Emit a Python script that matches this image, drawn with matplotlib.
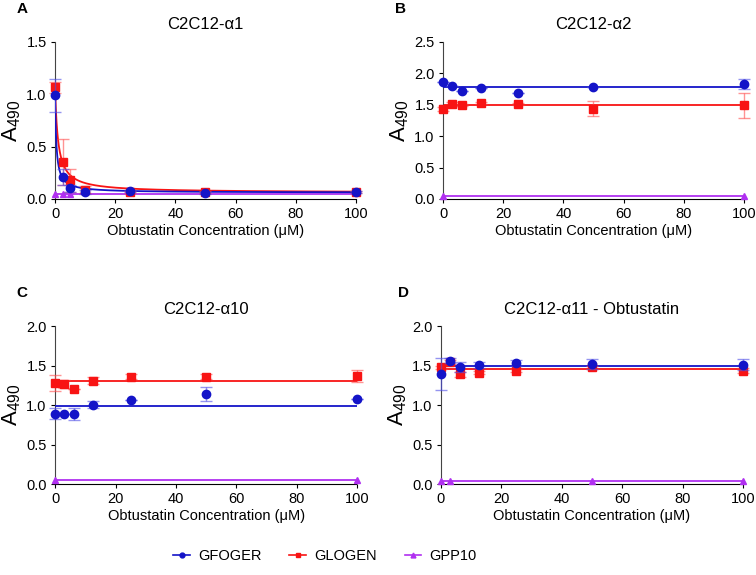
import numpy as np
import matplotlib
matplotlib.use('Agg')
import matplotlib.pyplot as plt

plt.rcParams['font.family'] = ['Liberation Sans', 'DejaVu Sans']
plt.rcParams['font.size'] = 10.5
plt.rcParams['xtick.labelsize'] = 10.5
plt.rcParams['ytick.labelsize'] = 10.5

# %% data
conc_a = [0, 2.5, 5, 10, 25, 50, 100]
conc = [0, 3.125, 6.25, 12.5, 25, 50, 100]

# panel A  C2C12-a1
a_gfoger = [0.99, 0.21, 0.10, 0.064, 0.076, 0.06, 0.064]
a_gfoger_err = [0.16, 0.08, 0.03, 0.02, 0.01, 0.01, 0.01]
a_glogen = [1.065, 0.35, 0.18, 0.09, 0.065, 0.065, 0.065]
a_glogen_err = [0.05, 0.22, 0.11, 0.03, 0.01, 0.01, 0.01]
a_gpp10 = [0.05, 0.05, 0.05, 0.05, 0.05, 0.05, 0.05]
# fit parameters (top, bottom, IC50) for the decay curves
a_fit_gfoger = (1.0, 0.06, 0.44)
a_fit_glogen = (1.07, 0.06, 1.0)

# panel B  C2C12-a2
b_gfoger = [1.86, 1.80, 1.72, 1.77, 1.68, 1.79, 1.83]
b_gfoger_err = [0.0, 0.0, 0.0, 0.0, 0.0, 0.0, 0.08]
b_glogen = [1.43, 1.515, 1.50, 1.53, 1.515, 1.435, 1.49]
b_glogen_err = [0.03, 0.03, 0.02, 0.02, 0.02, 0.12, 0.2]
b_gpp10 = [0.05, None, None, None, None, None, 0.05]
b_fit = (1.78, 1.49, 0.05)

# panel C  C2C12-a10
c_gfoger = [0.888, 0.888, 0.888, 1.006, 1.065, 1.14, 1.08]
c_gfoger_err = [0.07, 0.0, 0.076, 0.04, 0.0, 0.09, 0.0]
c_glogen = [1.28, 1.263, 1.2, 1.31, 1.36, 1.36, 1.37]
c_glogen_err = [0.1, 0.05, 0.0, 0.04, 0.03, 0.03, 0.075]
c_gpp10 = [0.05, None, None, None, None, None, 0.05]
c_fit = (0.994, 1.31, 0.05)

# panel D  C2C12-a11
d_gfoger = [1.39, 1.56, 1.48, 1.51, 1.53, 1.52, 1.51]
d_gfoger_err = [0.2, 0.03, 0.06, 0.04, 0.035, 0.06, 0.07]
d_glogen = [1.48, 1.545, 1.39, 1.41, 1.435, 1.48, 1.435]
d_glogen_err = [0.02, 0.02, 0.03, 0.02, 0.02, 0.02, 0.03]
d_gpp10 = [0.04, 0.04, None, None, None, 0.04, 0.04]
d_fit = (1.50, 1.457, 0.04)

blue = '#1414c8'
red = '#f81414'
purple = '#b030f0'

fig = plt.figure(figsize=(7.56, 5.75), dpi=100)

ax_a = fig.add_axes([0.0728, 0.654, 0.398, 0.273])
ax_b = fig.add_axes([0.586, 0.654, 0.398, 0.273])
ax_c = fig.add_axes([0.0728, 0.158, 0.400, 0.275])
ax_d = fig.add_axes([0.583, 0.158, 0.400, 0.275])


def pts(x, y):
    xx = [xi for xi, yi in zip(x, y) if yi is not None]
    yy = [yi for yi in y if yi is not None]
    return xx, yy


def style(ax, title, ymax, yticks, letter, lx):
    ax.set_xlim(0, 100)
    ax.set_ylim(0, ymax)
    ax.set_xticks([0, 20, 40, 60, 80, 100])
    ax.set_yticks(yticks)
    ax.set_yticklabels(['%.1f' % t for t in yticks])
    ax.spines['top'].set_visible(False)
    ax.spines['right'].set_visible(False)
    ax.spines['left'].set_color('#444444')
    ax.spines['bottom'].set_linestyle((0, (1, 1)))
    ax.tick_params(length=3, width=0.8, pad=3)
    ax.set_title(title, fontsize=12, pad=9)
    ax.set_xlabel('Obtustatin Concentration (\u03bcM)', fontsize=10.5, labelpad=2)
    ax.set_ylabel('$\\mathregular{A_{490}}$', fontsize=16, labelpad=2)
    fig.text(lx, ax.get_position().y1 + 0.057, letter, fontsize=11,
             fontweight='bold', ha='left', va='center')


xs = np.linspace(0, 100, 800)
ekw = dict(ms=6, capsize=4, elinewidth=1, capthick=1, clip_on=False)

# panel A
ax = ax_a
top, bot, k = a_fit_gfoger
ax.plot(xs, bot + (top - bot) / (1 + xs / k), color=blue, lw=1.3, zorder=3)
top, bot, k = a_fit_glogen
ax.plot(xs, bot + (top - bot) / (1 + xs / k), color=red, lw=1.3, zorder=2)
ax.plot([0, 100], [0.05, 0.05], color=purple, lw=1.3, zorder=1)
ax.errorbar(conc_a, a_glogen, yerr=a_glogen_err, fmt='s', color=red,
            ecolor=(1, 0.3, 0.3, 0.6), zorder=4, **ekw)
ax.errorbar(conc_a, a_gfoger, yerr=a_gfoger_err, fmt='o', color=blue,
            ecolor=(0.3, 0.3, 0.9, 0.6), zorder=5, **ekw)
ax.plot(conc_a[:3], a_gpp10[:3], '^', ms=5, color=purple, clip_on=False, zorder=3)
style(ax, 'C2C12-\u03b11', 1.5, [0.0, 0.5, 1.0, 1.5], 'A', 0.022)

# panels B-D (flat fits)
for ax, g, ge, l, le, p, fit, title, ymax, yt, letter, lx in [
        (ax_b, b_gfoger, b_gfoger_err, b_glogen, b_glogen_err, b_gpp10, b_fit,
         'C2C12-\u03b12', 2.5, [0.0, 0.5, 1.0, 1.5, 2.0, 2.5], 'B', 0.522),
        (ax_c, c_gfoger, c_gfoger_err, c_glogen, c_glogen_err, c_gpp10, c_fit,
         'C2C12-\u03b110', 2.0, [0.0, 0.5, 1.0, 1.5, 2.0], 'C', 0.022),
        (ax_d, d_gfoger, d_gfoger_err, d_glogen, d_glogen_err, d_gpp10, d_fit,
         'C2C12-\u03b111 - Obtustatin', 2.0, [0.0, 0.5, 1.0, 1.5, 2.0], 'D', 0.526)]:
    ax.plot([0, 100], [fit[0], fit[0]], color=blue, lw=1.3, zorder=3)
    ax.plot([0, 100], [fit[1], fit[1]], color=red, lw=1.3, zorder=2)
    ax.plot([0, 100], [fit[2], fit[2]], color=purple, lw=1.3, zorder=1)
    ax.errorbar(conc, l, yerr=le, fmt='s', color=red,
                ecolor=(1, 0.3, 0.3, 0.6), zorder=4, **ekw)
    ax.errorbar(conc, g, yerr=ge, fmt='o', color=blue,
                ecolor=(0.3, 0.3, 0.9, 0.6), zorder=5, **ekw)
    px, py = pts(conc, p)
    ax.plot(px, py, '^', ms=5, color=purple, clip_on=False, zorder=3)
    style(ax, title, ymax, yt, letter, lx)

# legend
h1, = ax_a.plot([], [], '-o', color=blue, ms=3.5, lw=1.2)
h2, = ax_a.plot([], [], '-s', color=red, ms=3.5, lw=1.2)
h3, = ax_a.plot([], [], '-^', color=purple, ms=3.5, lw=1.2)
fig.legend([h1, h2, h3], ['GFOGER', 'GLOGEN', 'GPP10'], loc='center',
           bbox_to_anchor=(0.43, 0.033), ncol=3, frameon=False, fontsize=10.5,
           handlelength=1.1, columnspacing=1.9, handletextpad=0.6)

fig.savefig('out.png', dpi=100)
